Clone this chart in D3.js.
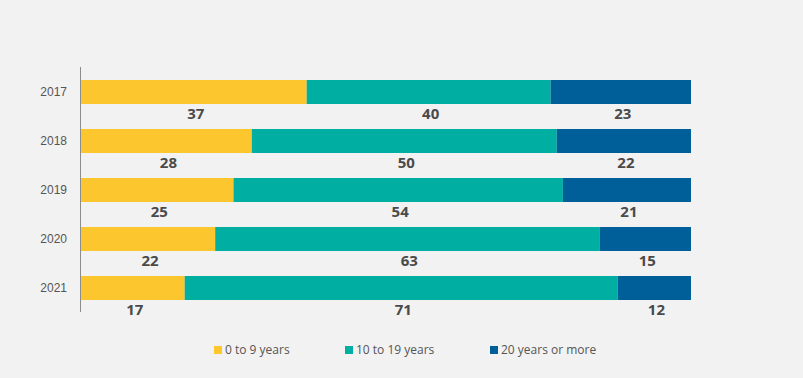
<!DOCTYPE html>
<html>
<head>
<meta charset="utf-8">
<script src="https://cdn.jsdelivr.net/npm/d3@7"></script>
<style>
  body { margin: 0; background: #f2f2f2; }
  svg { display: block; font-family: "Open Sans", sans-serif; }
</style>
</head>
<body>
<div class="vizHolder"></div>
<script>
var years = ["2017", "2018", "2019", "2020", "2021"];
var series = ["0 to 9 years", "10 to 19 years", "20 years or more"];
var young = [37, 28, 25, 22, 17];
var mid = [40, 50, 54, 63, 71];
var old = [23, 22, 21, 15, 12];

var colors = ["#fcc62e", "#00aea2", "#005e98"];

var width = 803, height = 378;

var rows = years.map(function(y, i) {
    return {year: y, values: [young[i], mid[i], old[i]]};
});

var xScale = d3.scaleLinear()
               .domain([0, 100])
               .range([81, 691]);
var yScale = d3.scaleBand()
               .domain(years)
               .range([80, 300])
               .paddingInner(25 / 49)
               .paddingOuter(0);

var svg = d3.select(".vizHolder")
            .append("svg")
            .attr("width", width)
            .attr("height", height);

svg.append("rect")
   .attr("width", width)
   .attr("height", height)
   .attr("fill", "#f2f2f2");

// stacked segments
var stack = d3.stack()
              .keys([0, 1, 2])
              .value(function(d, k) { return d.values[k]; });
var layers = stack(rows);

var layer = svg.selectAll(".layer")
               .data(layers)
               .enter().append("g")
               .attr("class", "layer")
               .attr("fill", function(d, i) { return colors[i]; });

layer.selectAll("rect")
     .data(function(d) { return d; })
     .enter().append("rect")
     .attr("x", function(d) { return xScale(d[0]); })
     .attr("y", function(d) { return yScale(d.data.year); })
     .attr("width", function(d) { return xScale(d[1]) - xScale(d[0]); })
     .attr("height", yScale.bandwidth());

// value labels under each segment
layer.selectAll("text")
     .data(function(d) { return d; })
     .enter().append("text")
     .attr("x", function(d) { return (xScale(d[0]) + xScale(d[1])) / 2 + 2; })
     .attr("y", function(d) { return yScale(d.data.year) + yScale.bandwidth() + 15; })
     .attr("text-anchor", "middle")
     .attr("fill", "#4a4a4a")
     .style("font-size", "15px")
     .style("font-weight", "bold")
     .text(function(d) { return d[1] - d[0]; });

// y-axis
var yAxis = d3.axisLeft(yScale).tickSize(0).tickPadding(13);
var gy = svg.append("g")
            .attr("transform", "translate(80,0)")
            .call(yAxis);
gy.select(".domain").remove();
gy.selectAll("text")
  .attr("fill", "#555")
  .style("font-size", "12px");
svg.append("line")
   .attr("x1", 80.5).attr("x2", 80.5)
   .attr("y1", 67).attr("y2", 312)
   .attr("stroke", "#8c8c8c")
   .attr("stroke-width", 1);

// legend
var legendX = [214, 345, 490];
var legend = svg.selectAll(".legend")
                .data(series)
                .enter().append("g")
                .attr("class", "legend")
                .attr("transform", function(d, i) { return "translate(" + legendX[i] + ",350)"; });

legend.append("rect")
      .attr("x", 0)
      .attr("y", -4)
      .attr("width", 8)
      .attr("height", 8)
      .attr("fill", function(d, i) { return colors[i]; });

legend.append("text")
      .attr("x", 11)
      .attr("dy", ".35em")
      .attr("fill", "#555")
      .style("font-size", "12px")
      .text(function(d) { return d; });
</script>
</body>
</html>
